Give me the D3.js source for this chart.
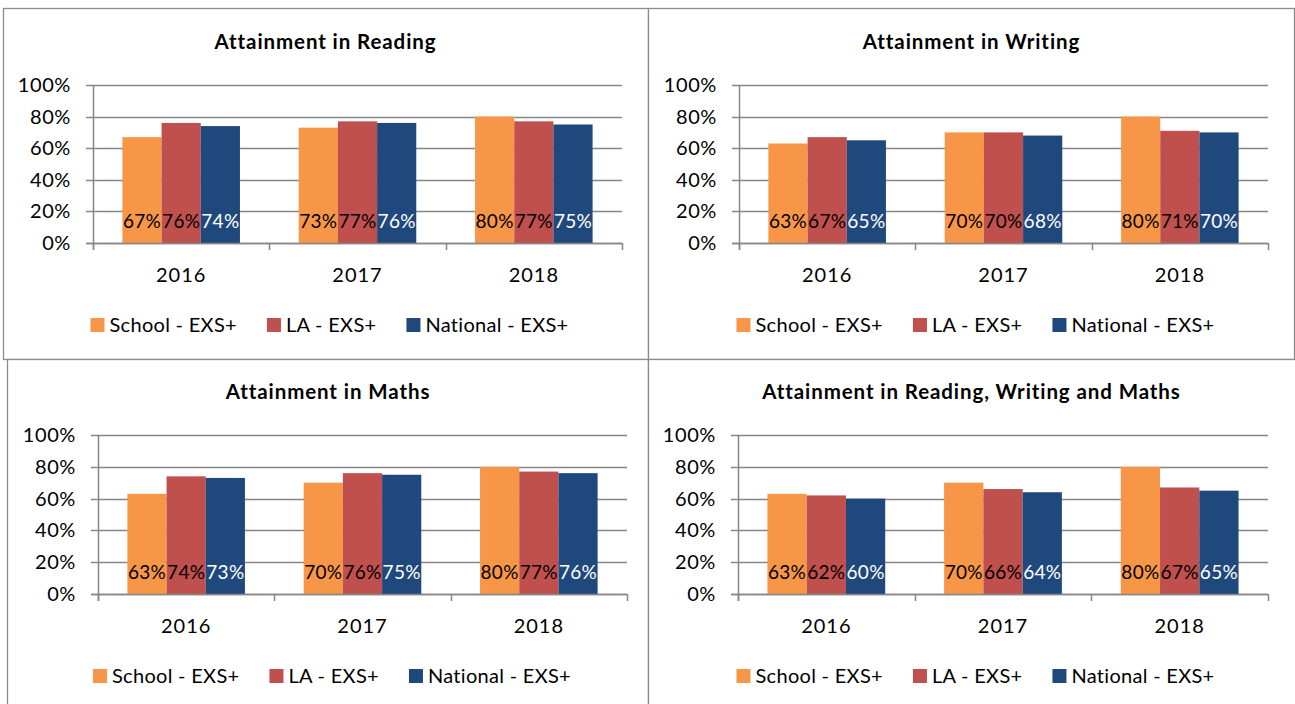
<!DOCTYPE html>
<html><head><meta charset="utf-8">
<script src="https://cdn.jsdelivr.net/npm/d3@7"></script>
<style>
html,body{margin:0;padding:0;background:#fff;}
svg{display:block;}
text{font-family:Lato,"Open Sans",sans-serif;fill:#000;}
</style></head>
<body>
<svg id="c" width="1295" height="704"></svg>
<script>
const years = ["2016","2017","2018"];
const seriesNames = ["School - EXS+","LA - EXS+","National - EXS+"];
const seriesColors = ["#F79646","#C0504D","#1F497D"];
const labelColors = ["#000","#000","#fff"];
const yTicks = [0,20,40,60,80,100];
const titles = ["Attainment in Reading","Attainment in Writing","Attainment in Maths","Attainment in Reading, Writing and Maths"];
const readingValues = [[67,73,80],[76,77,77],[74,76,75]];
const writingValues = [[63,70,80],[67,70,71],[65,68,70]];
const mathsValues = [[63,70,80],[74,76,77],[73,75,76]];
const rwmValues = [[63,70,80],[62,66,67],[60,64,65]];
const allValues = [readingValues, writingValues, mathsValues, rwmValues];

const layout = [
  {bx:3, by:8, bw:645, bh:351, cx:325.5, px0:93, px1:622, py0:85, py1:243},
  {bx:648, by:8, bw:646, bh:351, cx:971.5, px0:739, px1:1268, py0:85, py1:243},
  {bx:7, by:359, bw:641, bh:360, cx:328, px0:98, px1:627, py0:435, py1:594},
  {bx:648, by:359, bw:660, bh:360, cx:971.5, px0:738, px1:1268, py0:435, py1:594}
];

const svg = d3.select("#c");
const grid = "#868686";

layout.forEach((L, i) => {
  svg.append("rect").attr("x", L.bx+0.5).attr("y", L.by+0.5).attr("width", L.bw).attr("height", L.bh)
    .attr("fill","#fff").attr("stroke","#8c8c8c").attr("stroke-width",1.3);
});
layout.forEach((L, i) => {
  const g = svg.append("g");
  const vals = allValues[i];
  const x = d3.scaleBand().domain(years).range([L.px0, L.px1]).paddingInner(0).paddingOuter(0);
  const x1 = d3.scaleBand().domain(d3.range(3)).range([0, x.bandwidth()]).paddingInner(0).paddingOuter(0.75);
  const y = d3.scaleLinear().domain([0,100]).range([L.py1, L.py0]);
  const cx = L.cx;

  // title
  g.append("text").attr("x", cx).attr("y", L.py0 - 43).attr("dy","0.35em").attr("text-anchor","middle")
    .attr("font-size", 20.5).attr("letter-spacing", 0.9).attr("font-weight","bold").text(titles[i]);

  // gridlines
  g.append("g").selectAll("line").data(yTicks).join("line")
    .attr("x1", L.px0 - 7).attr("x2", L.px1).attr("y1", d => Math.round(y(d))+0.5).attr("y2", d => Math.round(y(d))+0.5)
    .attr("stroke", grid).attr("stroke-width", 1.5);
  // y labels
  g.append("g").selectAll("text").data(yTicks).join("text")
    .attr("x", L.px0 - 22).attr("y", d => y(d)).attr("dy","0.35em").attr("text-anchor","end")
    .attr("font-size", 20).attr("letter-spacing", 0.6).text(d => d + "%");

  // bars
  vals.forEach((sv, s) => {
    g.append("g").selectAll("rect").data(years).join("rect")
      .attr("x", (d) => x(d) + x1(s)).attr("width", x1.bandwidth())
      .attr("y", (d, k) => y(sv[k])).attr("height", (d, k) => y(0) - y(sv[k]))
      .attr("fill", seriesColors[s]);
  });
  // data labels
  vals.forEach((sv, s) => {
    g.append("g").selectAll("text").data(years).join("text")
      .attr("x", d => x(d) + x1(s) + x1.bandwidth()/2).attr("y", y(0) - 22).attr("dy","0.35em")
      .attr("text-anchor","middle").attr("font-size", 19).attr("letter-spacing", 0.3).style("fill", labelColors[s])
      .text((d, k) => sv[k] + "%");
  });

  // axes lines
  g.append("line").attr("x1", L.px0+0.5).attr("x2", L.px0+0.5).attr("y1", L.py0).attr("y2", L.py1+7)
    .attr("stroke", grid).attr("stroke-width", 1.5);
  g.append("line").attr("x1", L.px0 - 7).attr("x2", L.px1).attr("y1", Math.round(y(0))+0.5).attr("y2", Math.round(y(0))+0.5)
    .attr("stroke", grid).attr("stroke-width", 1.5);
  const bounds = years.map(d => x(d)).concat([L.px1]);
  g.append("g").selectAll("line").data(bounds).join("line")
    .attr("x1", d => Math.round(d)+0.5).attr("x2", d => Math.round(d)+0.5).attr("y1", y(0)).attr("y2", y(0)+7)
    .attr("stroke", grid).attr("stroke-width", 1.5);

  // year labels
  g.append("g").selectAll("text").data(years).join("text")
    .attr("x", d => x(d) + x.bandwidth()/2).attr("y", y(0) + 32).attr("dy","0.35em")
    .attr("text-anchor","middle").attr("font-size", 20).attr("letter-spacing", 1).text(d => d);

  // legend
  const leg = g.append("g");
  const ly = y(0) + 82;
  const items = [];
  seriesNames.forEach((n, s) => {
    const it = leg.append("g");
    it.append("rect").attr("x", 0).attr("y", -7).attr("width", 14).attr("height", 14).attr("fill", seriesColors[s]);
    const t = it.append("text").attr("x", 19).attr("y", 0).attr("dy","0.35em").attr("font-size", 20).attr("letter-spacing", 0.3).text(n);
    items.push({it, w: 19 + t.node().getComputedTextLength()});
  });
  const gap = 30;
  const total = d3.sum(items, d => d.w) + gap*(items.length-1);
  let lx = cx + 4 - total/2;
  items.forEach(d => { d.it.attr("transform", `translate(${lx},${ly})`); lx += d.w + gap; });
});
</script>
</body></html>
